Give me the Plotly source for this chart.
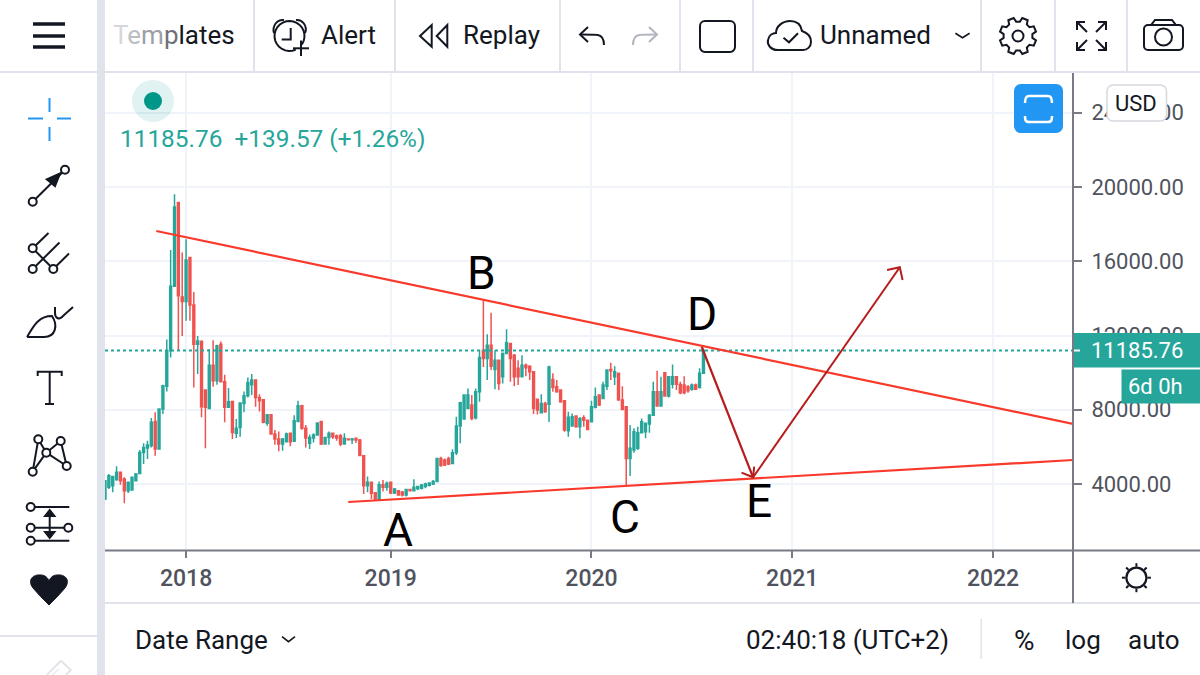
import math

import pandas as pd
import plotly.graph_objects as go

# weekly candles
dates = pd.date_range("2017-08-07", periods=156, freq="7D")

opens = [3190, 3820, 3910, 4230, 4630, 4270, 3640, 3680, 4180, 4570,
         5700, 5940, 6060, 7370, 5880, 8040, 9260, 11180, 14660, 19160,
         14080, 13830, 16200, 13650, 11530, 11680, 9060, 8070, 10400, 9560,
         11530, 9510, 8130, 8450, 6740, 7050, 8340, 8750, 9350, 9600,
         8660, 8540, 7270, 7730, 6690, 6420, 6150, 6280, 6740, 6300,
         7370, 8220, 7010, 6190, 6480, 6640, 7370, 6150, 6510, 6730,
         6580, 6600, 6150, 6420, 6390, 6460, 6370, 5520, 3910, 4090,
         3530, 3140, 3960, 3820, 4090, 3520, 3640, 3570, 3410, 3710,
         3640, 3750, 3770, 3860, 3930, 4000, 4130, 5380, 5290, 5380,
         5110, 5690, 7120, 7500, 8070, 8250, 7570, 8970, 11210, 10760,
         11480, 10170, 10670, 9780, 11030, 11570, 10940, 10230, 9780, 10400,
         10350, 10050, 8560, 7840, 8340, 8290, 9630, 9240, 9060, 8490,
         6870, 7120, 7660, 7090, 7570, 7440, 7350, 8130, 8790, 8610,
         9270, 10170, 9780, 9960, 8520, 8160, 5380, 5830, 5920, 6760,
         6820, 7230, 7710, 8970, 8200, 9990, 8740, 9380, 9780, 9360,
         9330, 9240, 9100, 9330, 9200, 9960]

highs = [4215, 4540, 4450, 4950, 4680, 4360, 4130, 4390, 4590, 5830,
         6190, 6330, 7550, 7860, 8070, 9350, 11790, 16610, 19610, 19200,
         16470, 17190, 16240, 14350, 11970, 11750, 9060, 11270, 11750, 11500,
         11680, 9880, 9170, 8490, 7500, 8400, 8990, 9740, 9920, 9600,
         8840, 8570, 7770, 7770, 6910, 6830, 6480, 6780, 6780, 7710,
         8490, 8270, 7180, 6660, 6730, 7320, 7410, 6550, 6830, 6780,
         6660, 6690, 6740, 6460, 6480, 6510, 6420, 5560, 4410, 4130,
         3550, 4140, 4220, 4130, 4130, 3780, 3680, 3620, 3750, 3750,
         4250, 3890, 4000, 4070, 4070, 4220, 5380, 5470, 5380, 5470,
         5870, 7620, 8430, 8830, 9150, 8790, 9150, 11210, 13870, 12070,
         13220, 11210, 10710, 11090, 12340, 11570, 11000, 10670, 10940, 10490,
         10400, 10050, 8560, 8840, 8430, 10370, 9960, 9600, 9100, 8520,
         7890, 7800, 7710, 7590, 7710, 7480, 8490, 9200, 8830, 9510,
         10170, 10530, 10350, 9990, 9270, 8200, 7180, 7000, 7090, 7530,
         7300, 7770, 9510, 10100, 9780, 10010, 9780, 10440, 9780, 9510,
         9810, 9330, 9420, 9420, 10230, 11300]

lows = [3140, 3730, 3550, 4180, 3960, 2960, 3520, 3640, 4130, 4540,
        5080, 5350, 5970, 5520, 5850, 7770, 8990, 10820, 14620, 11180,
        11980, 12790, 12790, 9200, 9920, 7590, 5920, 8070, 9240, 9350,
        9500, 7320, 8090, 6420, 6480, 6550, 7860, 8660, 8790, 8160,
        7910, 7270, 7140, 6660, 6120, 5760, 5790, 6240, 6030, 6300,
        7370, 6920, 5970, 5880, 6240, 6600, 6100, 6120, 6120, 6420,
        6330, 6030, 6120, 6370, 6150, 6210, 5520, 3460, 3550, 3190,
        3140, 3140, 3590, 3640, 3460, 3460, 3370, 3320, 3320, 3610,
        3640, 3680, 3710, 3770, 3860, 3950, 4090, 4930, 4970, 5020,
        5110, 5560, 6190, 7480, 8070, 7440, 7480, 8430, 10310, 9600,
        10140, 9100, 9060, 9420, 11000, 9510, 9270, 9330, 9740, 9810,
        9600, 7770, 7750, 7800, 7840, 7340, 8970, 8920, 8380, 6820,
        6550, 7090, 7030, 6460, 7090, 6910, 7350, 8070, 8200, 8560,
        9060, 9600, 9330, 8490, 7980, 3950, 4430, 5690, 5830, 6730,
        6460, 6760, 7660, 8160, 8160, 8700, 8660, 9150, 9060, 8840,
        8840, 8920, 9020, 9060, 9150, 9920]

closes = [4180, 4450, 4410, 4630, 4180, 3640, 4090, 4360, 4540, 5700,
          5970, 6100, 7320, 5880, 8040, 9290, 11180, 14660, 18930, 14140,
          13830, 16070, 13650, 11530, 11710, 8160, 8130, 10400, 9560, 11450,
          9510, 8130, 8430, 6780, 7010, 8360, 8750, 9470, 9600, 8660,
          8490, 7320, 7730, 6690, 6420, 6150, 6420, 6690, 6280, 7410,
          8220, 7010, 6480, 6510, 6640, 7280, 6150, 6510, 6740, 6550,
          6480, 6150, 6460, 6390, 6420, 6370, 5530, 3910, 4090, 3500,
          3190, 3960, 3820, 4040, 3520, 3730, 3410, 3410, 3710, 3640,
          3820, 3860, 3950, 4000, 4050, 4130, 5380, 4990, 5020, 5080,
          5690, 7120, 8380, 8790, 8790, 7530, 8970, 10820, 10760, 11480,
          10350, 10670, 9420, 11030, 11610, 10760, 9780, 9780, 10400, 10260,
          10050, 8070, 7980, 8340, 7890, 10310, 9200, 8970, 8430, 6910,
          7590, 7620, 7090, 7530, 7440, 6940, 8160, 8700, 8250, 9330,
          10140, 10100, 10050, 8520, 8020, 5380, 5920, 6820, 6760, 7350,
          7270, 7710, 8970, 8200, 8970, 8740, 9780, 9780, 9380, 8920,
          8920, 9020, 9330, 9100, 9960, 11185.76]

last_price = 11185.76
price_ticks = [4000, 8000, 12000, 16000, 20000, 24000]
price_labels = ["4000.00", "8000.00", "12000.00", "16000.00", "20000.00", "24000.00"]
year_ticks = ["2018-01-01", "2019-01-07", "2020-01-06", "2021-01-04", "2022-01-03"]
year_labels = ["2018", "2019", "2020", "2021", "2022"]

# drawn trend lines and arrows
upper_x = ["2017-11-08", "2022-05-28"]
upper_y = [17631, 7233]
lower_x = ["2018-10-22", "2022-05-28"]
lower_y = [3030, 5293]
down_x = ["2020-07-24", "2020-10-25"]
down_y = [11381, 4361]
down_head_x = ["2020-10-04", "2020-10-25", "2020-10-27"]
down_head_y = [4609, 4361, 4932]
up_x = ["2020-10-25", "2021-07-18"]
up_y = [4361, 15676]
up_head_x = ["2021-06-25", "2021-07-18", "2021-07-23"]
up_head_y = [15530, 15676, 14991]

W, H = 1200, 675
INK = "#131722"
EDGE = "#E0E3EB"
GRID = "#F0F3FA"
AXIS = "#787B86"
TICK = "#50535E"
GREEN = "#26A69A"
RED = "#EF5350"
TREND = "#F9392B"
ARROW = "#B71C1C"
FONT = "Roboto"

shapes = []
notes = []


def px(x):
    return x / W


def py(y):
    return 1 - y / H


def path_of(points, close=False):
    s = "M" + " L".join(f"{px(x):.5f},{py(y):.5f}" for x, y in points)
    return s + (" Z" if close else "")


def poly(points, color=INK, width=2, close=False, fill=None):
    shapes.append(dict(type="path", xref="paper", yref="paper", path=path_of(points, close),
                       line=dict(color=color, width=width), fillcolor=fill, layer="above"))


def curve(points, color=INK, width=2, fill=None, close=False):
    # points: start, then triples of bezier controls
    s = f"M{px(points[0][0]):.5f},{py(points[0][1]):.5f}"
    for i in range(1, len(points), 3):
        a, b, c = points[i:i + 3]
        s += f" C{px(a[0]):.5f},{py(a[1]):.5f} {px(b[0]):.5f},{py(b[1]):.5f} {px(c[0]):.5f},{py(c[1]):.5f}"
    if close:
        s += " Z"
    shapes.append(dict(type="path", xref="paper", yref="paper", path=s,
                       line=dict(color=color, width=width), fillcolor=fill, layer="above"))


def box(x0, y0, x1, y1, fill, line=None, width=0):
    shapes.append(dict(type="rect", xref="paper", yref="paper", x0=px(x0), x1=px(x1), y0=py(y0), y1=py(y1),
                       fillcolor=fill, line=dict(color=line or fill, width=width), layer="above"))


def round_box(x0, y0, x1, y1, r, fill=None, line=INK, width=2):
    k = r * 0.45
    curve([(x0 + r, y0),
           (x0 + r, y0), (x1 - r, y0), (x1 - r, y0), (x1 - k, y0), (x1, y0 + k), (x1, y0 + r),
           (x1, y0 + r), (x1, y1 - r), (x1, y1 - r), (x1, y1 - k), (x1 - k, y1), (x1 - r, y1),
           (x1 - r, y1), (x0 + r, y1), (x0 + r, y1), (x0 + k, y1), (x0, y1 - k), (x0, y1 - r),
           (x0, y1 - r), (x0, y0 + r), (x0, y0 + r), (x0, y0 + k), (x0 + k, y0), (x0 + r, y0)],
          color=line, width=width, fill=fill, close=True)


def dot(cx, cy, r, fill="white", line=INK, width=2):
    shapes.append(dict(type="circle", xref="paper", yref="paper", x0=px(cx - r), x1=px(cx + r),
                       y0=py(cy + r), y1=py(cy - r), fillcolor=fill,
                       line=dict(color=line, width=width), layer="above"))


def arc(cx, cy, r, a0, a1, n=24):
    return [(cx + r * math.cos(math.radians(a0 + (a1 - a0) * i / n)),
             cy + r * math.sin(math.radians(a0 + (a1 - a0) * i / n))) for i in range(n + 1)]


def label(x, y, text, size=26, color=INK, anchor="left", weight=None):
    notes.append(dict(xref="paper", yref="paper", x=px(x), y=py(y), text=text, showarrow=False,
                      xanchor=anchor, yanchor="middle", borderpad=0,
                      font=dict(family=FONT, size=size, color=color, weight=weight)))


# panels and separators
box(0, 0, 97, 675, "white")
box(97, 0, 105, 675, EDGE)
box(0, 0, 1200, 71, "white")
box(97, 0, 105, 72, EDGE)
box(0, 71, 97, 73, EDGE)
box(105, 71, 1200, 73, EDGE)
box(1074, 551, 1200, 602, "white")
box(105, 603, 1200, 675, "white")
box(105, 602, 1200, 604, EDGE)
box(1072, 73, 1074, 603, AXIS)
box(105, 549.5, 1200, 551.5, AXIS)
box(0, 635, 97, 637, EDGE)
for sx in [254, 395, 560, 680, 753, 981, 1055, 1127]:
    box(sx - 1, 0, sx + 1, 71, EDGE)
box(980.5, 619, 982, 659, EDGE)

# hamburger and left tool icons
for hy in [24, 36, 47]:
    poly([(33, hy), (65, hy)], width=3.5)
for seg in [[(28, 118.5), (43, 118.5)], [(57, 118.5), (71, 118.5)], [(49.5, 98), (49.5, 112)], [(49.5, 127), (49.5, 141)]]:
    poly(seg, color="#2196F3", width=2)

poly([(32.7, 201.7), (65, 169.7)])
poly([(46.7, 179.3), (60, 173.3), (55, 186)], close=True, fill=INK)
dot(32.7, 201.7, 4)
dot(65, 169.7, 4)

poly([(32.7, 248.3), (48.5, 233)])
poly([(32.7, 248.3), (53.3, 269)])
poly([(32.7, 269), (59.5, 242.5)])
poly([(53.3, 269), (69, 253.5)])
dot(32.7, 248.3, 4)
dot(32.7, 269, 4)
dot(53.3, 269, 4)

curve([(27, 337), (33, 327), (38, 316), (52, 316), (58, 325), (56, 337), (44, 337), (38, 337), (32, 337), (27, 337)])
curve([(55, 307), (55, 311), (55, 313), (55, 313), (55, 318), (59, 320), (62, 317), (66, 313), (70, 310), (73, 307)])

poly([(37.7, 376), (37.7, 371.7), (61.7, 371.7), (61.7, 376)])
poly([(49.7, 371.7), (49.7, 404)])
poly([(45, 404), (54, 404)])

nodes = [(38.3, 439.3), (60.7, 441), (46.3, 452.7), (32.7, 471.7), (66.7, 466)]
for a, b in [(3, 0), (0, 2), (2, 3), (2, 1), (2, 4), (1, 4)]:
    poly([nodes[a], nodes[b]])
for nx, ny in nodes:
    dot(nx, ny, 4)

poly([(35, 507), (69.3, 507)])
poly([(30.7, 527.7), (68.3, 527.7)])
poly([(35, 540.7), (69.3, 540.7)])
poly([(49.7, 512), (49.7, 536)])
poly([(45, 516), (49.7, 510), (54.4, 516)], close=True, fill=INK)
poly([(45, 532), (49.7, 538), (54.4, 532)], close=True, fill=INK)
dot(30.7, 507, 4)
dot(30.7, 527.7, 4)
dot(68.3, 527.7, 4)
dot(30.7, 540.7, 4)

curve([(49, 605), (44, 600), (38, 594), (33, 588), (27, 580), (33, 574), (41, 575), (45, 575), (48, 578), (49, 581),
       (50, 578), (53, 575), (57, 575), (65, 574), (71, 580), (65, 588), (60, 594), (54, 600), (49, 605)],
      fill=INK, width=1, close=True)

poly([(61, 660.7), (46.7, 675)], color="#E3E4E9", width=2)
poly([(61, 660.7), (70.7, 670), (66, 675)], color="#E3E4E9", width=2)
poly([(59, 669), (52, 675)], color="#EEEFF2", width=2)

# toolbar icons
poly(arc(289.5, 36, 15, 65, 395))
curve([(274, 33), (272, 26), (277, 19), (284, 20)])
curve([(296, 20), (302, 19), (308, 26), (305, 33)])
poly([(290.7, 28), (290.7, 39.5), (281.7, 39.5)])
poly([(301, 40.5), (301, 56)])
poly([(293, 48.3), (309, 48.3)])

poly([(420, 36), (431.7, 25), (431.7, 46.7)], close=True)
poly([(436.7, 36), (447.3, 25), (447.3, 46.7)], close=True)

poly([(588, 27), (580, 34.5), (588, 42)])
curve([(580, 34.5), (590, 34.5), (596, 34.5), (598, 35), (603, 36), (604, 40), (604, 45)])
poly([(649, 27), (657, 34.5), (649, 42)], color="#B2B5BE")
curve([(657, 34.5), (647, 34.5), (641, 34.5), (639, 35), (634, 36), (633, 40), (633, 45)], color="#B2B5BE")

round_box(700, 21, 735, 52, 5)

curve([(778, 50), (770, 50), (767, 44), (768, 40), (769, 35), (773, 33), (776, 33), (776, 26), (783, 21), (790, 21),
       (797, 21), (801, 25), (802, 31), (808, 33), (811, 37), (811, 42), (811, 47), (807, 50), (803, 50),
       (795, 50), (786, 50), (778, 50)], close=True)
poly([(783.5, 37.7), (789, 42.3), (798, 33.3)])
poly([(955.4, 33.3), (962.5, 37.7), (969.6, 33.3)], width=1.6)

gear = []
for t in range(8):
    a = 22.5 + t * 45
    gear += [(1018 + 14.5 * math.cos(math.radians(a - 15)), 36 + 14.5 * math.sin(math.radians(a - 15))),
             (1018 + 18.5 * math.cos(math.radians(a - 9)), 36 + 18.5 * math.sin(math.radians(a - 9))),
             (1018 + 18.5 * math.cos(math.radians(a + 9)), 36 + 18.5 * math.sin(math.radians(a + 9))),
             (1018 + 14.5 * math.cos(math.radians(a + 15)), 36 + 14.5 * math.sin(math.radians(a + 15)))]
poly(gear, close=True)
dot(1018, 36, 5.5)

poly([(1085, 22), (1077, 22), (1077, 30)])
poly([(1077, 22), (1087, 32)])
poly([(1098, 22), (1106, 22), (1106, 30)])
poly([(1106, 22), (1096, 32)])
poly([(1077, 42), (1077, 50), (1085, 50)])
poly([(1077, 50), (1087, 40)])
poly([(1106, 42), (1106, 50), (1098, 50)])
poly([(1106, 50), (1096, 40)])

round_box(1144, 25, 1183, 50, 4)
poly([(1151, 25), (1155, 20), (1172, 20), (1176, 25)])
dot(1163.5, 37, 8.5)

poly([(282, 636.7), (288.5, 641.7), (295, 636.7)], width=1.6)

for t in range(8):
    a = math.radians(t * 45)
    poly([(1136.4 + 11 * math.cos(a), 577.7 + 11 * math.sin(a)), (1136.4 + 14.5 * math.cos(a), 577.7 + 14.5 * math.sin(a))], width=2)
dot(1136.4, 577.7, 10, width=2.2)

# status dot, scale button, tags
dot(153, 101, 21, fill="rgba(0,150,136,0.12)", line="rgba(0,0,0,0)", width=0)
dot(153, 101, 9, fill="#009688", line="#009688", width=0)

round_box(1014, 84, 1063, 133, 7, fill="#2196F3", line="#2196F3", width=0)
curve([(1025, 103), (1025, 100), (1025, 96), (1029, 96), (1036, 96), (1044, 96), (1048, 96), (1052, 96), (1052, 100), (1052, 103)],
      color="white", width=2.5)
curve([(1025, 116), (1025, 119), (1025, 122), (1029, 122), (1036, 122), (1044, 122), (1048, 122), (1052, 122), (1052, 119), (1052, 116)],
      color="white", width=2.5)

round_box(1107, 85, 1166.5, 121, 6, fill="white", line="#D6D8E0", width=1.5)
box(1074, 333, 1200, 367.5, GREEN)
box(1074, 349.5, 1080, 351.5, "white")
box(1121.5, 369.5, 1200, 403.5, GREEN)

# texts
fade = ["#D6D7DB", "#BDBEC4", "#9C9EA5", "#6F7179"]
label(112, 35, "".join(f'<span style="color:{c}">{ch}</span>' for c, ch in zip(fade, "Temp")) + "lates")
label(320, 35, "Alert")
label(462, 35, "Replay")
label(819, 35, "Unnamed")
label(134, 640, "Date Range")
label(745, 640, "02:40:18 (UTC+2)")
label(1013, 640, "%", size=28)
label(1064, 640, "log")
label(1127, 640, "auto")
label(119, 138, "11185.76  +139.57 (+1.26%)", size=24.4, color=GREEN)
label(1136, 103, "USD", size=22, anchor="center")
label(1090, 350.5, "11185.76", size=22, color="white")
label(1184, 386.5, "6d 0h", size=22, color="white", anchor="right")

for lx, ly, ch in [(398, 530, "A"), (481, 273, "B"), (625, 517, "C"), (702, 314, "D"), (759, 501, "E")]:
    label(lx, ly, ch, size=46, color="black", anchor="center")

fig = go.Figure()
fig.add_trace(go.Scatter(x=[dates[0], upper_x[1]], y=[last_price, last_price], mode="lines",
                         line=dict(color=GREEN, width=2, dash="3px,3px"), hoverinfo="skip"))
fig.add_trace(go.Candlestick(x=dates, open=opens, high=highs, low=lows, close=closes,
                             increasing=dict(line=dict(color=GREEN, width=1.5), fillcolor=GREEN),
                             decreasing=dict(line=dict(color=RED, width=1.5), fillcolor=RED),
                             whiskerwidth=0))
for xs, ys, color, width in [(upper_x, upper_y, TREND, 2.2), (lower_x, lower_y, TREND, 2.2),
                             (down_x, down_y, ARROW, 2.2), (down_head_x, down_head_y, ARROW, 2),
                             (up_x, up_y, ARROW, 2), (up_head_x, up_head_y, ARROW, 2)]:
    fig.add_trace(go.Scatter(x=xs, y=ys, mode="lines", line=dict(color=color, width=width), hoverinfo="skip"))

fig.update_layout(
    width=W, height=H, margin=dict(l=0, r=0, t=0, b=0), showlegend=False,
    paper_bgcolor="white", plot_bgcolor="white", shapes=shapes, annotations=notes,
    xaxis=dict(domain=[px(105), px(1073)], type="date", range=["2017-08-07", "2022-05-28"],
               rangeslider=dict(visible=False), tickvals=year_ticks, ticktext=year_labels,
               showgrid=True, gridcolor=GRID, gridwidth=2, zeroline=False, showline=False,
               ticks="outside", ticklen=7, tickcolor=AXIS, tickwidth=1.5,
               tickfont=dict(family=FONT, size=23, color=TICK, weight=500), anchor="y"),
    yaxis=dict(domain=[py(550), py(73)], range=[444, 26143], side="right",
               tickvals=price_ticks, ticktext=price_labels,
               showgrid=True, gridcolor=GRID, gridwidth=2, zeroline=False, showline=False,
               ticks="outside", ticklen=8, tickcolor=AXIS, tickwidth=1.5, ticklabelstandoff=5,
               tickfont=dict(family=FONT, size=22, color=TICK), anchor="x"),
)

# browser default body margin would shift the whole picture by 8px
fig.write_html("out.html", config={"displayModeBar": False}, post_script="document.body.style.margin = '0';")
